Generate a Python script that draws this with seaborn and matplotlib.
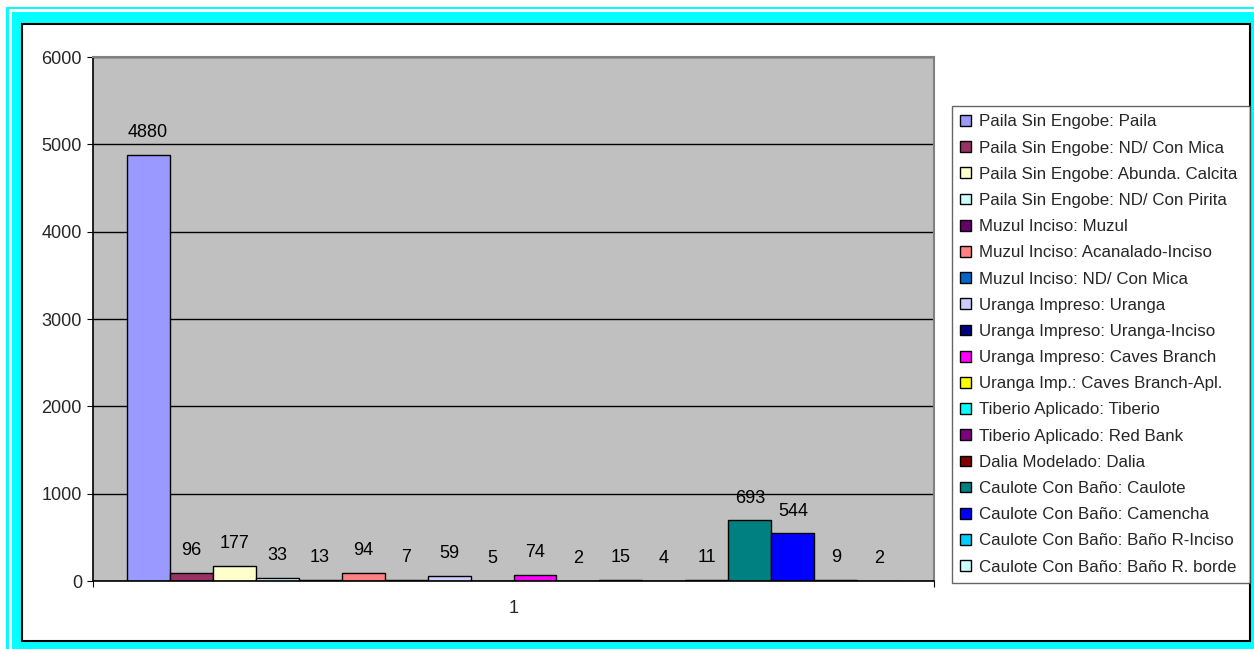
import matplotlib
matplotlib.use("Agg")
import matplotlib.pyplot as plt
from matplotlib.patches import Rectangle
from matplotlib.lines import Line2D
import seaborn as sns
import pandas as pd

categories = ["1"]
varieties = [
    "Paila Sin Engobe: Paila",
    "Paila Sin Engobe: ND/ Con Mica",
    "Paila Sin Engobe: Abunda. Calcita",
    "Paila Sin Engobe: ND/ Con Pirita",
    "Muzul Inciso: Muzul",
    "Muzul Inciso: Acanalado-Inciso",
    "Muzul Inciso: ND/ Con Mica",
    "Uranga Impreso: Uranga",
    "Uranga Impreso: Uranga-Inciso",
    "Uranga Impreso: Caves Branch",
    "Uranga Imp.: Caves Branch-Apl.",
    "Tiberio Aplicado: Tiberio",
    "Tiberio Aplicado: Red Bank",
    "Dalia Modelado: Dalia",
    "Caulote Con Baño: Caulote",
    "Caulote Con Baño: Camencha",
    "Caulote Con Baño: Baño R-Inciso",
    "Caulote Con Baño: Baño R. borde",
]
counts = [4880, 96, 177, 33, 13, 94, 7, 59, 5, 74, 2, 15, 4, 11, 693, 544, 9, 2]
colors = ["#9999FF", "#993366", "#FFFFCC", "#CCFFFF", "#660066", "#FF8080",
          "#0066CC", "#CCCCFF", "#000080", "#FF00FF", "#FFFF00", "#00FFFF",
          "#800080", "#800000", "#008080", "#0000FF", "#00CCFF", "#CCFFFF"]
y_ticks = [0, 1000, 2000, 3000, 4000, 5000, 6000]

df = pd.DataFrame({"grupo": categories * len(varieties),
                   "variedad": varieties,
                   "cantidad": counts})

sns.set_style("white")
plt.rcParams["font.family"] = ["Liberation Sans", "DejaVu Sans"]

W, H = 1254, 649
fig = plt.figure(figsize=(W / 100, H / 100), dpi=100)
fig.patch.set_facecolor("white")

def fx(px):
    return px / W

def fy(py):
    return 1 - py / H

# outer cyan frame
fig.patches.append(Rectangle((fx(6), fy(649)), fx(1254 - 6), fy(7) - fy(649),
                             transform=fig.transFigure, facecolor="#00FFFF",
                             edgecolor="none", zorder=0))
fig.lines.append(Line2D([fx(9.5), fx(9.5)], [fy(10), fy(649)], transform=fig.transFigure,
                        color="white", lw=2.2, zorder=1))
fig.lines.append(Line2D([fx(9.5), fx(1254)], [fy(10), fy(10)], transform=fig.transFigure,
                        color="white", lw=2.2, zorder=1))
fig.patches.append(Rectangle((fx(22), fy(641)), fx(1250 - 22), fy(24) - fy(641),
                             transform=fig.transFigure, facecolor="white",
                             edgecolor="black", lw=1.5, zorder=2))

ax = fig.add_axes([fx(93), fy(581), fx(934 - 93), fy(57) - fy(581)], zorder=3)
ax.set_facecolor("#C0C0C0")

sns.barplot(data=df, x="grupo", y="cantidad", hue="variedad", hue_order=varieties,
            palette=colors, width=0.92, edgecolor="black", linewidth=1.0,
            dodge=True, ax=ax, legend=True, saturation=1)

for cont in ax.containers:
    ax.bar_label(cont, padding=10, fontsize=13, color="black")

ax.set_xlim(-0.5, 0.5)
ax.set_ylim(0, 6000)
ax.set_yticks(y_ticks)
ax.set_yticklabels([str(v) for v in y_ticks], fontsize=13)
ax.yaxis.grid(True, color="black", lw=1.0)
ax.set_axisbelow(True)
ax.set_xticks([-0.5, 0.5])
ax.set_xticklabels(["", ""])
ax.set_xticks([0], minor=True)
ax.set_xticklabels(categories, minor=True, fontsize=13)
ax.tick_params(axis="x", which="major", length=4, color="black", direction="out", bottom=True)
ax.tick_params(axis="x", which="minor", length=0, pad=14)
ax.tick_params(axis="y", length=4, color="black", direction="out", left=True, pad=4)
ax.set_xlabel("")
ax.set_ylabel("")
for side in ["left", "bottom"]:
    ax.spines[side].set_color("black")
    ax.spines[side].set_linewidth(1.2)
for side in ["top", "right"]:
    ax.spines[side].set_color("#808080")
    ax.spines[side].set_linewidth(1.5)

handles, labels = ax.get_legend_handles_labels()
ax.get_legend().remove()
for h in handles:
    h.set_edgecolor("black")
    h.set_linewidth(1.0)
leg = fig.legend(handles, labels, loc="upper left",
                 bbox_to_anchor=(fx(952), fy(106) - 0.01, fx(1250 - 952), 0.01),
                 mode="expand", borderaxespad=0, fontsize=12.2, frameon=True,
                 fancybox=False, edgecolor="#404040", handlelength=0.6, handleheight=0.6,
                 handletextpad=0.5, labelspacing=0.66, borderpad=0.5)
leg.get_frame().set_linewidth(1.0)
leg.set_zorder(4)

fig.savefig("out.png", dpi=100)
